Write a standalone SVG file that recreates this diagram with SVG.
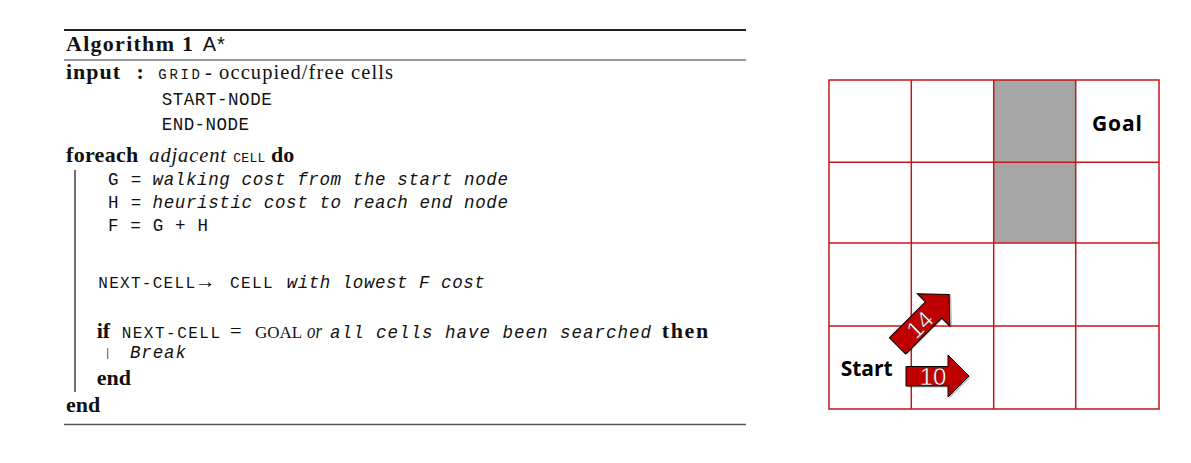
<svg xmlns="http://www.w3.org/2000/svg" width="1191" height="463" viewBox="0 0 1191 463">
<style>
.b{font-family:"Liberation Serif",serif;font-weight:bold;font-size:22px;fill:#111}
.r{font-family:"Liberation Serif",serif;font-size:20.5px;fill:#111}
.ri{font-family:"Liberation Serif",serif;font-style:italic;font-size:20.5px;fill:#111}
.m{font-family:"Liberation Mono",monospace;font-size:17.5px;fill:#111}
.sc{font-family:"Liberation Mono",monospace;font-size:16px;fill:#111}
.mi{font-family:"Liberation Mono",monospace;font-style:italic;font-size:17.5px;fill:#111}
.s{font-family:"Liberation Sans",sans-serif;font-size:20px;fill:#111}
.lbl{font-family:"Open Sans","Liberation Sans",sans-serif;font-weight:bold;font-size:21px;fill:#000}
.num{font-family:"Liberation Sans",sans-serif;font-size:24px;fill:#fff;stroke:#5a0000;stroke-width:0.4}
.grid{stroke:#C4161C;stroke-width:1.5;fill:none}
.arr{fill:#C00000;stroke:#000;stroke-width:1}
.sh{fill:#000;opacity:0.25}
</style>
<rect width="1191" height="463" fill="#fff"/>
<g id="algorithm">
<line x1="64" y1="30" x2="746" y2="30" stroke="#222" stroke-width="1.8"/>
<line x1="64" y1="60" x2="746" y2="60" stroke="#777" stroke-width="1.3"/>
<line x1="64" y1="424.5" x2="746" y2="424.5" stroke="#555" stroke-width="1.3"/>
<text class="b" x="66" y="51" textLength="127">Algorithm 1</text>
<text class="s" x="202.7" y="51" textLength="22">A*</text>
<text class="b" x="66" y="79" textLength="54">input</text>
<text class="b" x="136.5" y="79">:</text>
<text class="sc" x="158.3" y="79" textLength="41.7" style="font-size:14px">GRID</text>
<text class="r" x="205" y="79" textLength="188">- occupied/free cells</text>
<text class="m" x="161.7" y="105" textLength="110">START-NODE</text>
<text class="m" x="161.7" y="130" textLength="87.3">END-NODE</text>
<text class="b" x="66" y="162" textLength="72.3">foreach</text>
<text class="ri" x="149.3" y="162" textLength="76.7">adjacent</text>
<text class="sc" x="233.3" y="162" textLength="32" style="font-size:13px">CELL</text>
<text class="b" x="271" y="162">do</text>
<line x1="75" y1="170" x2="75" y2="392" stroke="#333" stroke-width="1.4"/>
<text class="m" x="108" y="185" textLength="33.3">G =</text>
<text class="mi" x="152.5" y="185" textLength="355.5">walking cost from the start node</text>
<text class="m" x="108" y="208" textLength="33.3">H =</text>
<text class="mi" x="152.5" y="208" textLength="355.5">heuristic cost to reach end node</text>
<text class="m" x="108" y="231" textLength="100">F = G + H</text>
<text class="sc" x="98.3" y="288" textLength="96.7">NEXT-CELL</text>
<text class="r" x="195" y="288" textLength="18">→</text>
<text class="sc" x="230" y="288" textLength="42.7">CELL</text>
<text class="mi" x="286.7" y="288" textLength="198">with lowest F cost</text>
<text class="b" x="96.7" y="338">if</text>
<text class="sc" x="121.7" y="338" textLength="98.3">NEXT-CELL</text>
<text class="r" x="230" y="338">=</text>
<text class="r" x="255" y="338" style="font-size:17px">GOAL</text>
<text class="ri" x="307" y="338" textLength="15" lengthAdjust="spacingAndGlyphs">or</text>
<text class="mi" x="330" y="338" textLength="321">all cells have been searched</text>
<text class="b" x="661.7" y="338" textLength="46.6">then</text>
<line x1="107.7" y1="348" x2="107.7" y2="359" stroke="#555" stroke-width="1"/>
<text class="mi" x="130" y="358" textLength="56">Break</text>
<text class="b" x="96.7" y="385">end</text>
<text class="b" x="66" y="411.7">end</text>
</g>
<g id="grid">
<rect x="994" y="80" width="82" height="163" fill="#A6A6A6"/>
<rect class="grid" x="829" y="80" width="330" height="329"/>
<line class="grid" x1="911.3" y1="80" x2="911.3" y2="409"/>
<line class="grid" x1="993.7" y1="80" x2="993.7" y2="409"/>
<line class="grid" x1="1075.7" y1="80" x2="1075.7" y2="409"/>
<line class="grid" x1="829" y1="162.3" x2="1159" y2="162.3"/>
<line class="grid" x1="829" y1="243" x2="1159" y2="243"/>
<line class="grid" x1="829" y1="326" x2="1159" y2="326"/>
</g>
<g id="goal"><text class="lbl" x="1092" y="131" textLength="50">Goal</text></g>
<g id="start"><text class="lbl" x="840.7" y="376" textLength="52">Start</text></g>
<g id="connectors">
<g transform="translate(897.5,346) rotate(-45)">
<path class="sh" d="M1.5,-10 H52.5 V-21.5 L74.5,1.5 L52.5,24.5 V13 H1.5 Z"/>
<path class="arr" d="M0,-11.5 H51 V-23 L73,0 L51,23 V11.5 H0 Z"/>
<text class="num" x="31" y="9" text-anchor="middle">14</text>
</g>
<g transform="translate(906,376)">
<path class="sh" d="M1.5,-8 H43.5 V-19.5 L64.5,1.5 L43.5,22.5 V11.5 H1.5 Z"/>
<path class="arr" d="M0,-9.5 H42 V-21 L63,0 L42,21 V10 H0 Z"/>
<text class="num" x="27" y="9" text-anchor="middle">10</text>
</g>
</g>
</svg>
